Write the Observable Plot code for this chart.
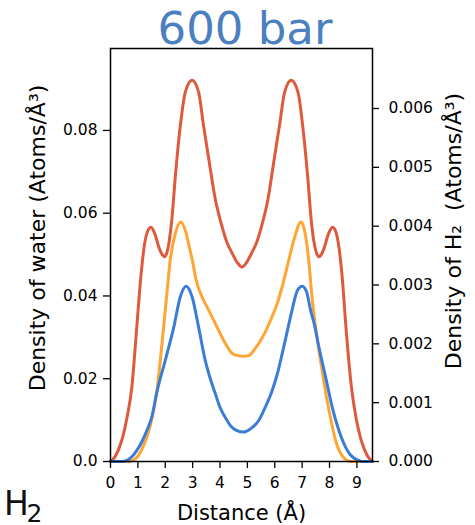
<!DOCTYPE html>
<html>
<head>
<meta charset="utf-8">
<script src="https://cdn.jsdelivr.net/npm/d3@7"></script>
<script src="https://cdn.jsdelivr.net/npm/@observablehq/plot@0.6"></script>
<style>
  html, body { margin: 0; padding: 0; background: white; }
</style>
</head>
<body>
<div id="chart"></div>
<script>
// ---- data ----
const title = "600 bar";
const xLabel = "Distance (Å)";
const yLeftLabel = "Density of water (Atoms/Å³)";
const yRightLabel = "Density of H₂\u00a0 (Atoms/Å³)";
const cornerMain = "H";
const cornerSub = "2";

const xTicks = [0, 1, 2, 3, 4, 5, 6, 7, 8, 9];
const leftTicks = [0, 0.02, 0.04, 0.06, 0.08];
const leftTickLabels = ["0.0", "0.02", "0.04", "0.06", "0.08"];
const rightTicks = [0, 0.001, 0.002, 0.003, 0.004, 0.005, 0.006];
const rightTickLabels = ["0.000", "0.001", "0.002", "0.003", "0.004", "0.005", "0.006"];

const xDomain = [0, 9.57];
const leftDomain = [0, 0.0998];
const rightDomain = [0, 0.00702];

// water density (left axis)
const waterX = [0, 0.15, 0.3, 0.45, 0.6, 0.78, 0.96, 1.1, 1.22, 1.35, 1.48, 1.62, 1.78, 1.9, 1.98, 2.06, 2.15, 2.24, 2.37, 2.55, 2.73, 2.98, 3.22, 3.40, 3.59, 3.83, 4.07, 4.25, 4.44, 4.62, 4.80,
  4.98, 5.15, 5.34, 5.52, 5.75, 5.98, 6.17, 6.36, 6.60, 6.85, 7.02, 7.20, 7.33, 7.42, 7.52, 7.61, 7.69, 7.80, 7.96, 8.11, 8.23, 8.36, 8.47, 8.60, 8.80, 8.97, 9.12, 9.27, 9.42, 9.57];
const waterY = [0, 0.0010, 0.0030, 0.0060, 0.0105, 0.0180, 0.0325, 0.0440, 0.0515, 0.0555, 0.0566, 0.0550, 0.0515, 0.0499, 0.0495, 0.0505, 0.0535, 0.0585, 0.0690, 0.0811, 0.0892, 0.0921, 0.0892, 0.0811, 0.0731, 0.0633, 0.0569, 0.0530, 0.0504, 0.0482, 0.0470,
  0.0482, 0.0503, 0.0530, 0.0569, 0.0633, 0.0731, 0.0811, 0.0892, 0.0921, 0.0892, 0.0811, 0.0690, 0.0585, 0.0535, 0.0505, 0.0495, 0.0499, 0.0515, 0.0550, 0.0566, 0.0555, 0.0510, 0.0440, 0.0325, 0.0180, 0.0105, 0.0060, 0.0030, 0.0010, 0];

// H2 density, orange series (right axis)
const orangeX = [0, 0.5, 0.7, 0.85, 1.02, 1.2, 1.35, 1.51, 1.69, 1.88, 2.06, 2.18, 2.37, 2.57, 2.75, 2.9, 3.0, 3.12, 3.34, 3.59, 3.95, 4.19, 4.44, 4.65, 4.85,
  5.05, 5.25, 5.42, 5.65, 5.9, 6.1, 6.27, 6.51, 6.72, 6.96, 7.1, 7.24, 7.36, 7.49, 7.61, 7.73, 7.85, 7.98, 8.1, 8.22, 8.34, 8.46, 8.6, 8.75, 9.57];
const orangeY = [0, 0, 0.0000, 0.00003, 0.0001, 0.00026, 0.00045, 0.00072, 0.00118, 0.0020, 0.00286, 0.00342, 0.00388, 0.00407, 0.0039, 0.0036, 0.0034, 0.0031, 0.0028, 0.00257, 0.00223, 0.00201, 0.00184, 0.00180, 0.00179,
  0.00180, 0.0019, 0.00201, 0.0022, 0.00246, 0.0027, 0.00297, 0.00342, 0.0038, 0.00407, 0.0039, 0.00342, 0.0028, 0.00229, 0.0019, 0.00155, 0.0012, 0.00087, 0.0006, 0.00036, 0.0002, 0.0001, 0.00003, 0, 0];

// H2 density, blue series (right axis)
const blueX = [0, 0.4, 0.6, 0.78, 0.95, 1.15, 1.33, 1.51, 1.69, 2.0, 2.31, 2.55, 2.76, 2.98, 3.22, 3.46, 3.65, 3.83, 4.0, 4.19, 4.4, 4.6, 4.87,
  5.1, 5.42, 5.65, 5.9, 6.1, 6.27, 6.45, 6.63, 6.82, 7.0, 7.15, 7.31, 7.46, 7.61, 7.86, 8.1, 8.34, 8.59, 8.75, 8.89, 9.05, 9.2, 9.57];
const blueY = [0, 0, 0.00002, 0.00008, 0.00018, 0.00034, 0.00053, 0.00076, 0.00117, 0.00172, 0.00228, 0.0028, 0.00298, 0.0028, 0.00228, 0.00172, 0.0014, 0.00115, 0.00092, 0.00075, 0.0006, 0.00053, 0.0005,
  0.00055, 0.0007, 0.00092, 0.0012, 0.0015, 0.00183, 0.0022, 0.00257, 0.0029, 0.00298, 0.0029, 0.00257, 0.0023, 0.00195, 0.00143, 0.00092, 0.00053, 0.00024, 0.00012, 0.00006, 0.00002, 0, 0];

const colors = {water: "#dd5b3c", orange: "#ffa534", blue: "#3a7dd6", title: "#4a80bf"};

// ---- build ----
const k = leftDomain[1] / rightDomain[1]; // right-axis units -> left-axis units
const water = waterX.map((x, i) => ({x, v: waterY[i]}));
const orange = orangeX.map((x, i) => ({x, v: orangeY[i] * k}));
const blue = blueX.map((x, i) => ({x, v: blueY[i] * k}));

const font = "DejaVu Sans";
const label = (txt, opts) => Plot.text([txt], {text: (d) => d, textAnchor: "middle", lineAnchor: "middle", ...opts});

const chart = Plot.plot({
  width: 475,
  height: 525,
  marginLeft: 110,
  marginRight: 103,
  marginTop: 48,
  marginBottom: 64,
  style: {fontFamily: font, fontSize: "15.5px", color: "black", background: "white"},
  x: {domain: xDomain},
  y: {domain: leftDomain},
  marks: [
    Plot.line(water, {x: "x", y: "v", stroke: colors.water, strokeWidth: 3, curve: "monotone-x"}),
    Plot.line(orange, {x: "x", y: "v", stroke: colors.orange, strokeWidth: 3, curve: "monotone-x"}),
    Plot.line(blue, {x: "x", y: "v", stroke: colors.blue, strokeWidth: 3, curve: "monotone-x"}),
    Plot.frame({stroke: "black", strokeWidth: 1.5}),
    Plot.axisX(xTicks, {anchor: "bottom", tickSize: 7, tickPadding: 8, fontSize: 15.5, label: null, strokeWidth: 1.3}),
    Plot.axisY(leftTicks, {anchor: "left", tickSize: 7, tickPadding: 6, fontSize: 15.5, label: null, strokeWidth: 1.3,
      tickFormat: (d) => leftTickLabels[leftTicks.indexOf(d)]}),
    Plot.axisY(rightTicks.map((t) => t * k), {anchor: "right", tickSize: 6, tickPadding: 10, fontSize: 15.5, label: null, strokeWidth: 1.3,
      tickFormat: (d, i) => rightTickLabels[i]}),
    label(title, {frameAnchor: "top", dx: 3.5, dy: -19, fontSize: 45, fill: colors.title}),
    label(xLabel, {frameAnchor: "bottom", dy: 51.5, fontSize: 21}),
    label(yLeftLabel, {frameAnchor: "left", rotate: -90, dx: -72.5, dy: -17, fontSize: 22}),
    label(yRightLabel, {frameAnchor: "right", rotate: -90, dx: 81.5, dy: -24, fontSize: 22}),
    label(cornerMain, {frameAnchor: "bottom-left", textAnchor: "start", dx: -106.5, dy: 43, fontSize: 33, fill: "#111"}),
    label(cornerSub, {frameAnchor: "bottom-left", textAnchor: "start", dx: -84, dy: 52, fontSize: 25, fill: "#111"})
  ]
});
document.getElementById("chart").appendChild(chart);
</script>
</body>
</html>
